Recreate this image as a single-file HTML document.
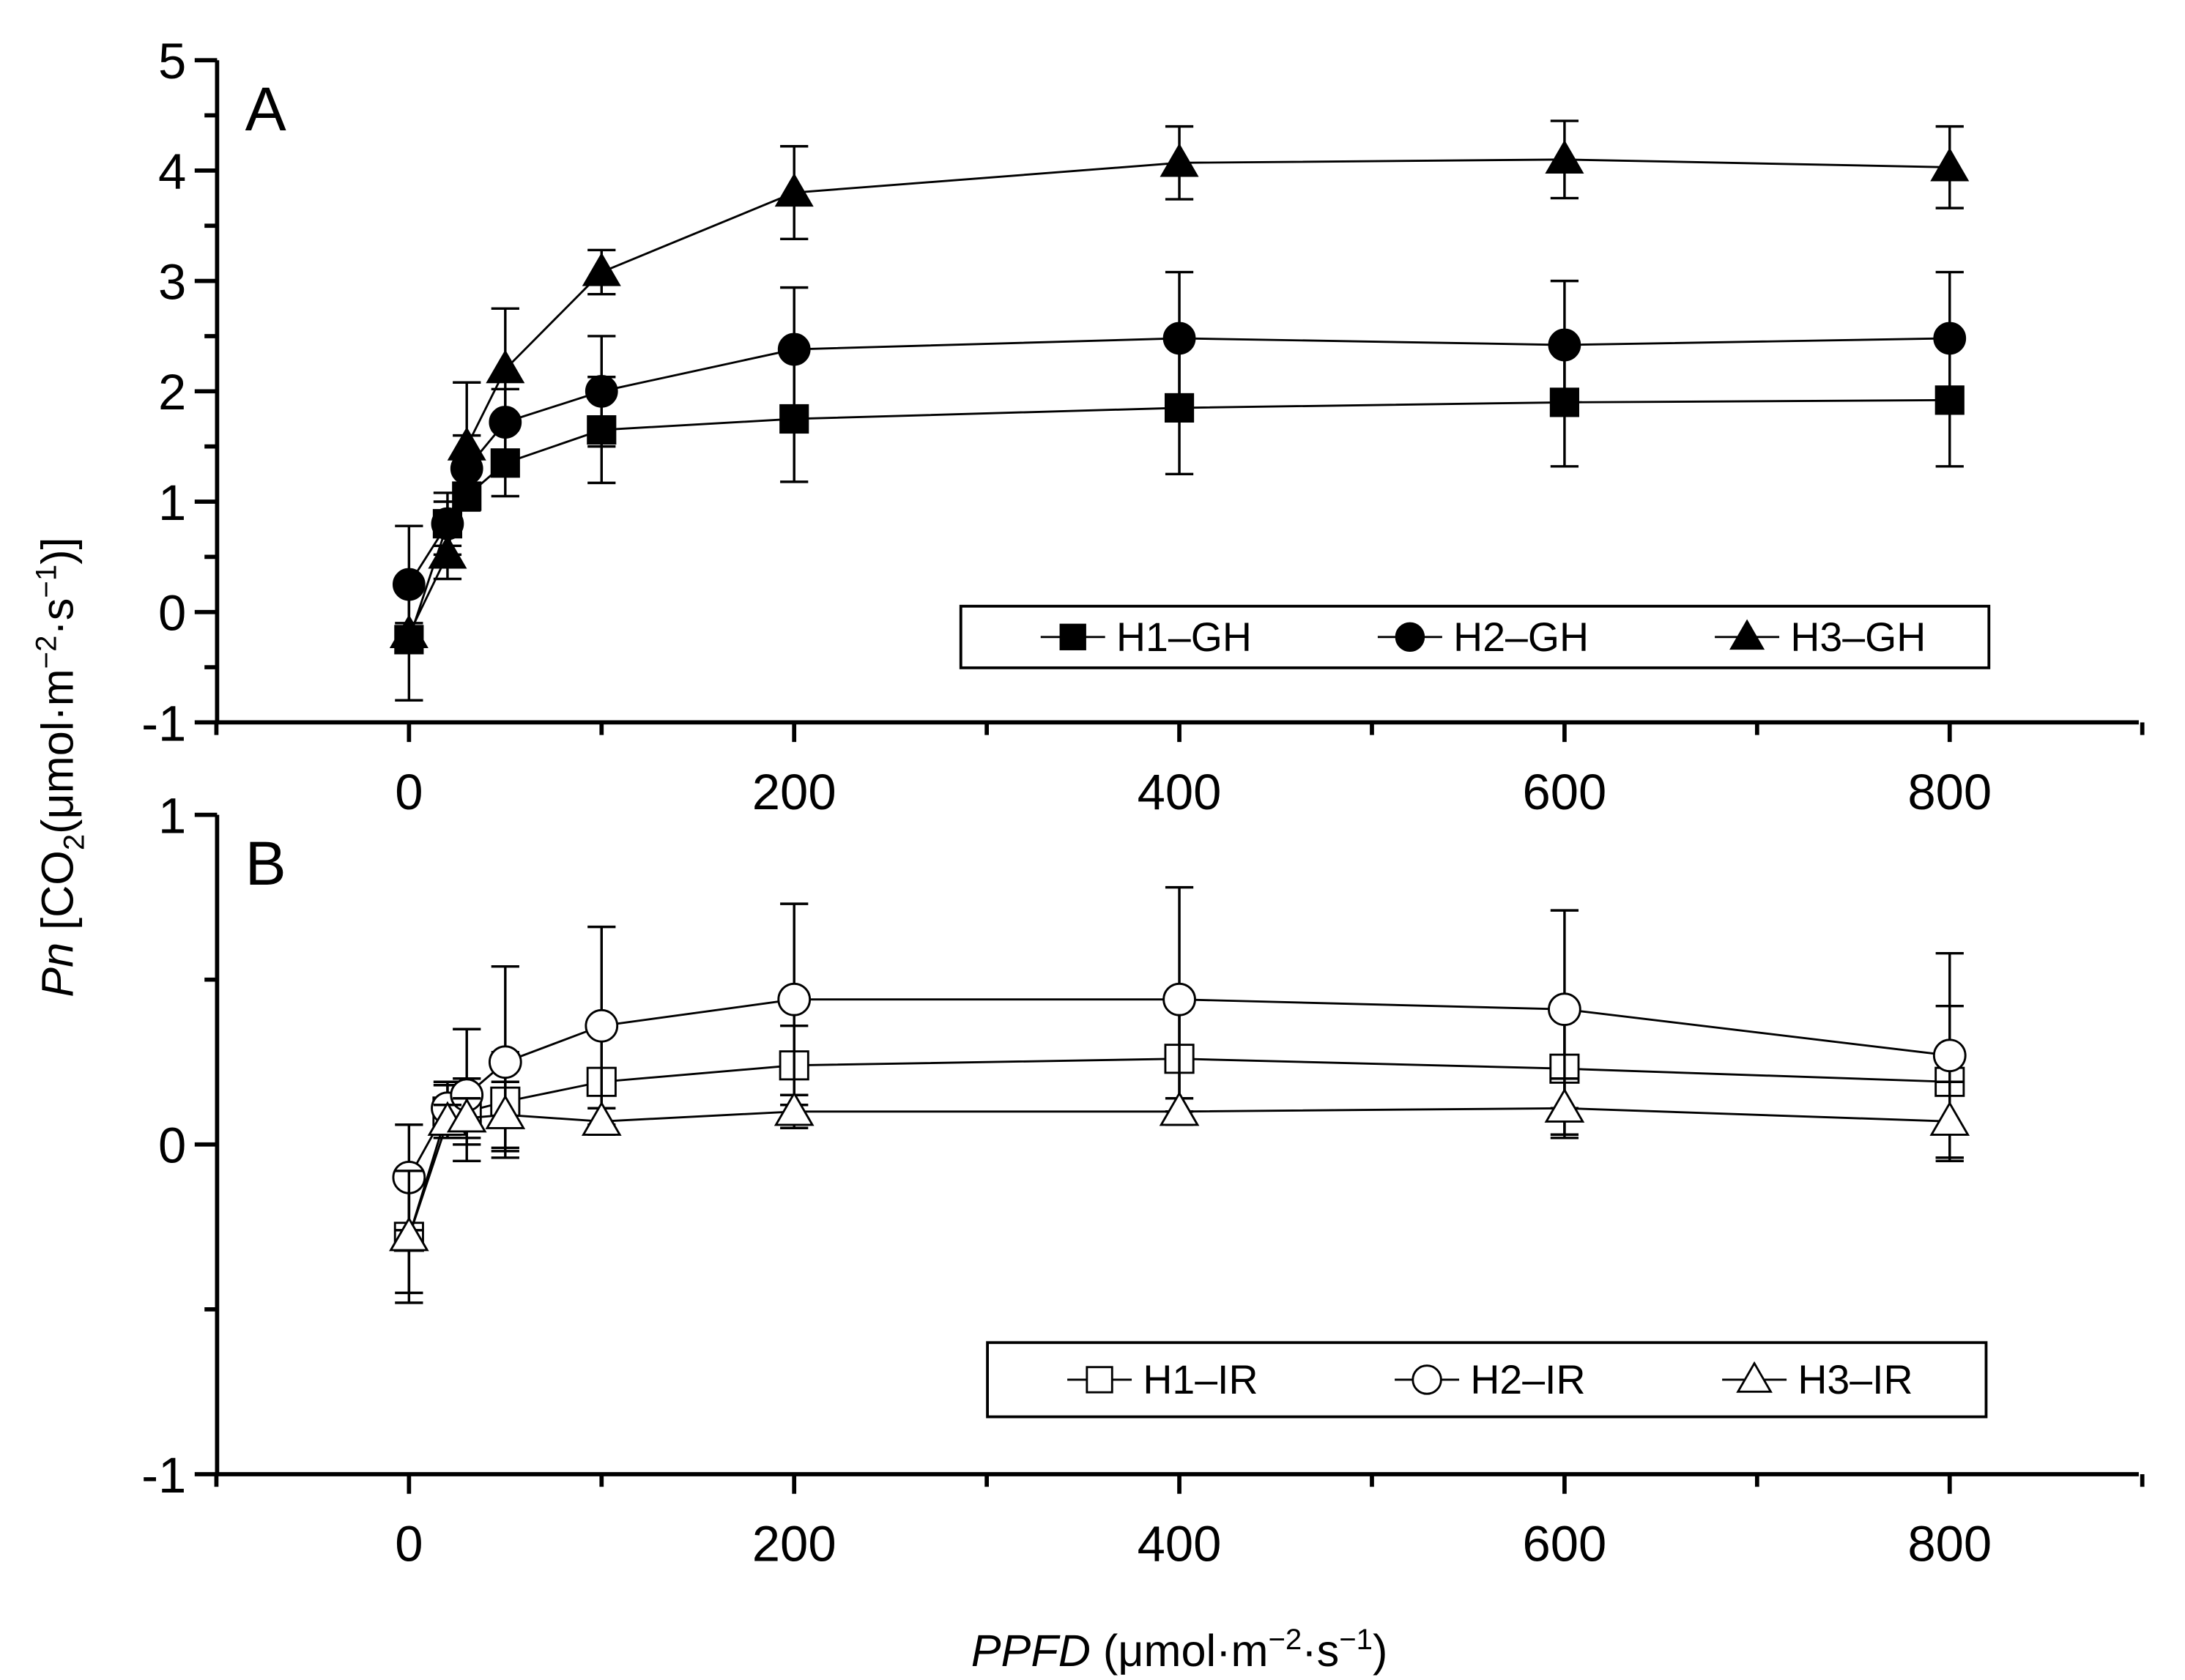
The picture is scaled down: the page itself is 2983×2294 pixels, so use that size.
<!DOCTYPE html>
<html><head><meta charset="utf-8"><style>
html,body{margin:0;padding:0;background:#fff}
svg{display:block}
text{font-family:"Liberation Sans",sans-serif;fill:#000}
</style></head><body>
<svg id="chart" width="2983" height="2294" viewBox="0 0 1560 1200" preserveAspectRatio="none" xmlns="http://www.w3.org/2000/svg">
<g id="root"></g>
</svg>
<script>
const xValues = [0, 20, 30, 50, 100, 200, 400, 600, 800];
const xTicks = [0, 200, 400, 600, 800];
const yTicksA = [-1, 0, 1, 2, 3, 4, 5];
const yTicksB = [-1, 0, 1];
const h1GH = [-0.25, 0.8, 1.05, 1.35, 1.65, 1.75, 1.85, 1.9, 1.92];
const h1GHErr = [0.55, 0.2, 0.12, 0.3, 0.48, 0.57, 0.6, 0.58, 0.6];
const h2GH = [0.25, 0.8, 1.3, 1.72, 2.0, 2.38, 2.48, 2.42, 2.48];
const h2GHErr = [0.53, 0.28, 0.3, 0.3, 0.5, 0.56, 0.6, 0.58, 0.6];
const h3GH = [-0.2, 0.52, 1.5, 2.2, 3.08, 3.8, 4.07, 4.1, 4.03];
const h3GHErr = [0.1, 0.22, 0.58, 0.55, 0.2, 0.42, 0.33, 0.35, 0.37];
const h1IR = [-0.28, 0.1, 0.1, 0.13, 0.19, 0.24, 0.26, 0.23, 0.19];
const h1IRErr = [0.17, 0.08, 0.1, 0.15, 0.15, 0.12, 0.18, 0.2, 0.23];
const h2IR = [-0.1, 0.11, 0.15, 0.25, 0.36, 0.44, 0.44, 0.41, 0.27];
const h2IRErr = [0.16, 0.08, 0.2, 0.29, 0.3, 0.29, 0.34, 0.3, 0.31];
const h3IR = [-0.28, 0.07, 0.08, 0.09, 0.07, 0.1, 0.1, 0.11, 0.07];
const h3IRErr = [0.2, 0.05, 0.06, 0.1, 0.04, 0.05, 0.04, 0.09, 0.12];

const NS = "http://www.w3.org/2000/svg";
const root = document.getElementById("root");
function mk(tag, attrs, parent) {
  const e = document.createElementNS(NS, tag);
  for (const k in attrs) e.setAttribute(k, attrs[k]);
  (parent || root).appendChild(e);
  return e;
}
const X0 = 155, X1 = 1527;
function xs(v) { return 292 + v * 1.375; }
const panels = [
  {key:"a", yMin:-1, yMax:5, top:43, bot:516, ticks:yTicksA, label:"A",
   series:[[h1GH,h1GHErr,"square",true,"H1\u2013GH"],[h2GH,h2GHErr,"circle",true,"H2\u2013GH"],[h3GH,h3GHErr,"triangle",true,"H3\u2013GH"]],
   legend:{x:686,y:433,w:734,h:44}},
  {key:"b", yMin:-1, yMax:1, top:582, bot:1053, ticks:yTicksB, label:"B",
   series:[[h1IR,h1IRErr,"square",false,"H1\u2013IR"],[h2IR,h2IRErr,"circle",false,"H2\u2013IR"],[h3IR,h3IRErr,"triangle",false,"H3\u2013IR"]],
   legend:{x:705,y:959,w:713,h:53}}
];
function marker(g, type, cx, cy, filled, r) {
  const st = {fill: filled ? "#000" : "#fff", stroke:"#000", "stroke-width": filled ? 1 : 1.5};
  let m;
  if (type === "square") m = mk("rect", Object.assign({x:cx-r, y:cy-r, width:2*r, height:2*r}, st), g);
  else if (type === "circle") m = mk("circle", Object.assign({cx:cx, cy:cy, r:r*1.12}, st), g);
  else m = mk("polygon", Object.assign({points:`${cx},${cy-r*1.3} ${cx-r*1.3},${cy+r*0.95} ${cx+r*1.3},${cy+r*0.95}`}, st), g);
  return m;
}
panels.forEach(p => {
  const ys = v => p.bot - (v - p.yMin) / (p.yMax - p.yMin) * (p.bot - p.top);
  const ax = mk("g", {});
  
  
  mk("line", {x1:X0, y1:p.top, x2:X0, y2:p.bot, stroke:"#000", "stroke-width":3}, ax);
  mk("line", {x1:X0-1.5, y1:p.bot, x2:X1, y2:p.bot, stroke:"#000", "stroke-width":3}, ax);
  for (let v = -100; v <= 900; v += 100) {
    const big = v % 200 === 0;
    mk("line", {x1:xs(v), y1:p.bot, x2:xs(v), y2:p.bot + (big ? 14 : 9), stroke:"#000", "stroke-width":3}, ax);
  }
  xTicks.forEach(v => {
    const t = mk("text", {x:xs(v), y:p.bot + 62, "font-size":36, "text-anchor":"middle"}, ax);
    
    
    t.textContent = v;
  });
  for (let v = p.yMin; v <= p.yMax + 1e-9; v += 0.5) {
    const big = Math.abs(v - Math.round(v)) < 1e-9;
    mk("line", {x1:X0 - (big ? 16 : 9), y1:ys(v), x2:X0, y2:ys(v), stroke:"#000", "stroke-width":3}, ax);
  }
  p.ticks.forEach(v => {
    const t = mk("text", {x:X0 - 22, y:ys(v) + 13, "font-size":36, "text-anchor":"end"}, ax);
    
    
    t.textContent = v;
  });
  const pl = mk("text", {x:175, y:p.top + 50, "font-size":44});
  
  
  pl.textContent = p.label;
  p.series.forEach((s, si) => {
    const [vals, errs, type, filled, name] = s;
    const g = mk("g", {});
    
    
    const pts = xValues.map((x, i) => xs(x) + "," + ys(vals[i])).join(" ");
    mk("polyline", {points:pts, fill:"none", stroke:"#000", "stroke-width":1.5}, g);
    xValues.forEach((x, i) => {
      const cx = xs(x), lo = ys(vals[i] - errs[i]), hi = ys(vals[i] + errs[i]);
      const eb = mk("path", {d:`M${cx},${lo}V${hi}M${cx-10},${lo}H${cx+10}M${cx-10},${hi}H${cx+10}`, stroke:"#000", "stroke-width":1.8, fill:"none"}, g);
      
      
    });
    xValues.forEach((x, i) => {
      const m = marker(g, type, xs(x), ys(vals[i]), filled, 10);
      
      
    });
  });
  const L = p.legend;
  const lg = mk("g", {});
  
  
  mk("rect", {x:L.x, y:L.y, width:L.w, height:L.h, fill:"#fff", stroke:"#000", "stroke-width":2}, lg);
  const cy = L.y + L.h / 2;
  p.series.forEach((s, si) => {
    const ex = L.x + 57 + si * (L.w / 3.05);
    const e = mk("g", {}, lg);
    
    
    mk("line", {x1:ex, y1:cy, x2:ex + 46, y2:cy, stroke:"#000", "stroke-width":1.5}, e);
    marker(e, s[2], ex + 23, cy, s[3], 9);
    const t = mk("text", {x:ex + 54, y:cy + 10, "font-size":29}, e);
    t.textContent = s[4];
  });
});
const yt = mk("text", {transform:"translate(52,548) rotate(-90)", "font-size":32, "text-anchor":"middle"});


yt.innerHTML = '<tspan font-style="italic">Pn</tspan> [CO<tspan font-size="21" dy="8">2</tspan><tspan dy="-8">(μmol·m</tspan><tspan font-size="21" dy="-12">−2</tspan><tspan dy="12">·s</tspan><tspan font-size="21" dy="-12">−1</tspan><tspan dy="12">)]</tspan>';
const xt = mk("text", {x:842, y:1190, "font-size":32, "text-anchor":"middle"});


xt.innerHTML = '<tspan font-style="italic">PPFD</tspan> (μmol·m<tspan font-size="21" dy="-12">−2</tspan><tspan dy="12">·s</tspan><tspan font-size="21" dy="-12">−1</tspan><tspan dy="12">)</tspan>';
</script>
</body></html>
